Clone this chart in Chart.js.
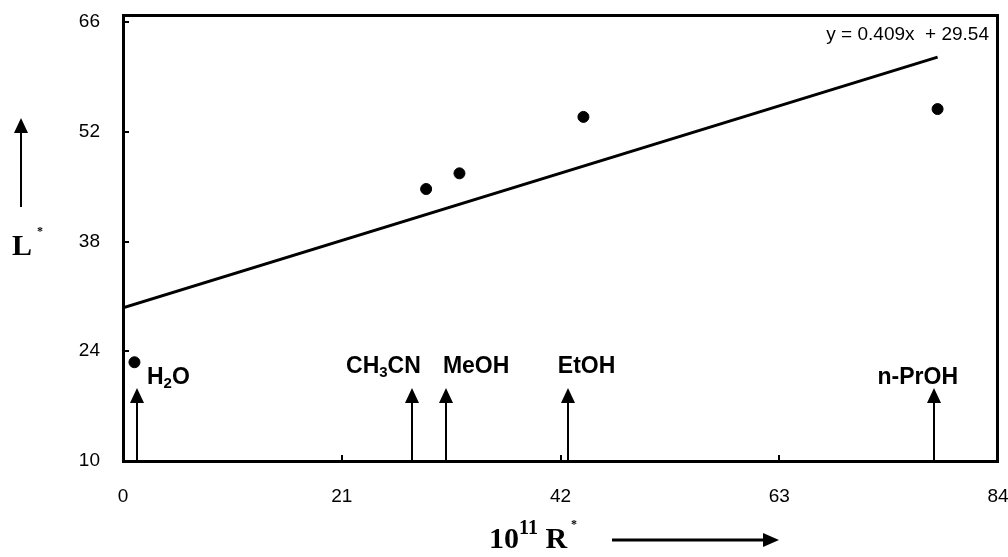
<!DOCTYPE html>
<html>
<head>
<meta charset="utf-8">
<script src="https://cdn.jsdelivr.net/npm/chart.js@4/dist/chart.umd.min.js"></script>
<style>
  html, body { margin: 0; padding: 0; background: #fff; }
  #wrap { width: 1008px; height: 557px; }
</style>
</head>
<body>
<div id="wrap"><canvas id="chart"></canvas></div>
<script>
// measured points (10^11 R*, L*)
var solventNames = ["H2O", "CH3CN", "MeOH", "EtOH", "n-PrOH"];
var rValues = [1.1, 29.1, 32.3, 44.2, 78.2];
var lValues = [22.6, 44.7, 46.7, 53.9, 54.9];

// linear fit y = 0.409x + 29.54, drawn from 0 to last point
var trendX = [0, 78.2];
var trendY = [29.54, 61.52];

// arrows marking each solvent on the R* axis
var arrowX = [1.3, 27.7, 31.0, 42.7, 77.9];
var arrowTipY = [19.3, 19.3, 19.3, 19.3, 19.3];
var labelX = [2.3, 25.0, 33.9, 44.5, 76.3];
var labelY = [20.6, 22.0, 22.0, 22.0, 20.6];

var xTicks = [0, 21, 42, 63, 84];
var yTicks = [10, 24, 38, 52, 66];

var SANS = "'Liberation Sans', Arial, sans-serif";
var SERIF = "'Liberation Serif', 'Times New Roman', serif";

function drawParts(ctx, parts, x, y, align) {
  // parts: [text, font, dy, gap before]
  var w = 0;
  parts.forEach(function(p) { ctx.font = p[1]; w += ctx.measureText(p[0]).width + (p[3] || 0); });
  var cx = align === 'center' ? x - w / 2 : (align === 'right' ? x - w : x);
  ctx.textAlign = 'left';
  parts.forEach(function(p) {
    ctx.font = p[1];
    cx += p[3] || 0;
    ctx.fillText(p[0], cx, y + p[2]);
    cx += ctx.measureText(p[0]).width;
  });
}

function arrowUp(ctx, x, yTop, yBottom) {
  ctx.beginPath();
  ctx.moveTo(x, yBottom);
  ctx.lineTo(x, yTop + 12);
  ctx.stroke();
  ctx.beginPath();
  ctx.moveTo(x, yTop);
  ctx.lineTo(x - 7, yTop + 15);
  ctx.lineTo(x + 7, yTop + 15);
  ctx.closePath();
  ctx.fill();
}

var bold = "bold 23px " + SANS;
var sub = "bold 15px " + SANS;
var labelParts = {
  "H2O": [["H", bold, 0], ["2", sub, 6], ["O", bold, 0]],
  "CH3CN": [["CH", bold, 0], ["3", sub, 6], ["CN", bold, 0]],
  "MeOH": [["MeOH", bold, 0]],
  "EtOH": [["EtOH", bold, 0]],
  "n-PrOH": [["n-PrOH", bold, 0]]
};

var overlay = {
  id: 'overlay',
  afterDatasetsDraw: function(chart) {
    var ctx = chart.ctx, a = chart.chartArea;
    var xs = chart.scales.x, ys = chart.scales.y;
    ctx.save();
    ctx.fillStyle = '#000';
    ctx.strokeStyle = '#000';

    // frame top/right
    ctx.lineWidth = 3;
    ctx.beginPath();
    ctx.moveTo(a.left, a.top + 0.5);
    ctx.lineTo(a.right - 0.5, a.top + 0.5);
    ctx.lineTo(a.right - 0.5, a.bottom);
    ctx.stroke();

    // inward tick marks
    ctx.lineWidth = 2;
    yTicks.forEach(function(v) {
      var py = Math.round(ys.getPixelForValue(v));
      ctx.beginPath(); ctx.moveTo(a.left, py); ctx.lineTo(a.left + 6, py); ctx.stroke();
    });
    xTicks.forEach(function(v) {
      var px = Math.round(xs.getPixelForValue(v));
      ctx.beginPath(); ctx.moveTo(px, a.bottom); ctx.lineTo(px, a.bottom - 6); ctx.stroke();
    });

    // solvent arrows and names
    ctx.lineWidth = 2;
    ctx.textBaseline = 'middle';
    for (var i = 0; i < solventNames.length; i++) {
      var px = Math.round(xs.getPixelForValue(arrowX[i]));
      arrowUp(ctx, px, ys.getPixelForValue(arrowTipY[i]), a.bottom);
      var align = i === 0 ? 'left' : 'center';
      drawParts(ctx, labelParts[solventNames[i]], xs.getPixelForValue(labelX[i]), ys.getPixelForValue(labelY[i]), align);
    }

    // fit equation
    ctx.font = "19px " + SANS;
    ctx.textAlign = 'right';
    ctx.fillText("y = 0.409x  + 29.54", a.right - 9, a.top + 20);

    // y axis title with arrow
    ctx.lineWidth = 2;
    arrowUp(ctx, 21, 118, 207);
    ctx.textBaseline = 'alphabetic';
    drawParts(ctx, [["L", "bold 30px " + SERIF, 0], ["*", "bold 12px " + SERIF, -20, 5]], 12, 255, 'left');

    // x axis title with arrow
    drawParts(ctx, [["10", "bold 30px " + SERIF, 0], ["11", "bold 20px " + SERIF, -14], [" R", "bold 30px " + SERIF, 0], ["*", "bold 12px " + SERIF, -20, 4]], 489, 548, 'left');
    ctx.lineWidth = 3;
    ctx.beginPath(); ctx.moveTo(612, 540); ctx.lineTo(765, 540); ctx.stroke();
    ctx.beginPath(); ctx.moveTo(779, 540); ctx.lineTo(763, 533); ctx.lineTo(763, 547); ctx.closePath(); ctx.fill();

    ctx.restore();
  }
};

var chart = new Chart(document.getElementById('chart'), {
  type: 'scatter',
  data: {
    datasets: [
      {
        label: 'L*',
        data: rValues.map(function(r, i) { return { x: r, y: lValues[i] }; }),
        backgroundColor: '#000',
        borderColor: '#000',
        pointRadius: 5.5,
        pointHoverRadius: 5.5
      },
      {
        label: 'fit',
        data: trendX.map(function(r, i) { return { x: r, y: trendY[i] }; }),
        showLine: true,
        borderColor: '#000',
        borderWidth: 3,
        pointRadius: 0,
        fill: false
      }
    ]
  },
  options: {
    responsive: true,
    maintainAspectRatio: false,
    animation: false,
    layout: { padding: { top: 15, right: 10, left: 0, bottom: 0 } },
    plugins: { legend: { display: false }, tooltip: { enabled: false } },
    scales: {
      x: {
        type: 'linear', min: 0, max: 84,
        afterBuildTicks: function(s) { s.ticks = xTicks.map(function(v) { return { value: v }; }); },
        afterFit: function(s) { s.height = 96; s.paddingLeft = 0; s.paddingRight = 0; },
        grid: { display: false, drawTicks: false },
        border: { color: '#000', width: 3 },
        ticks: { color: '#000', padding: 24, maxRotation: 0, font: { family: SANS, size: 19 } }
      },
      y: {
        type: 'linear', min: 10, max: 66.9,
        afterBuildTicks: function(s) { s.ticks = yTicks.map(function(v) { return { value: v }; }); },
        afterFit: function(s) { s.width = 123; s.paddingTop = 0; s.paddingBottom = 0; },
        grid: { display: false, drawTicks: false },
        border: { color: '#000', width: 3 },
        ticks: { color: '#000', padding: 23, font: { family: SANS, size: 19 } }
      }
    }
  },
  plugins: [overlay]
});
</script>
</body>
</html>
